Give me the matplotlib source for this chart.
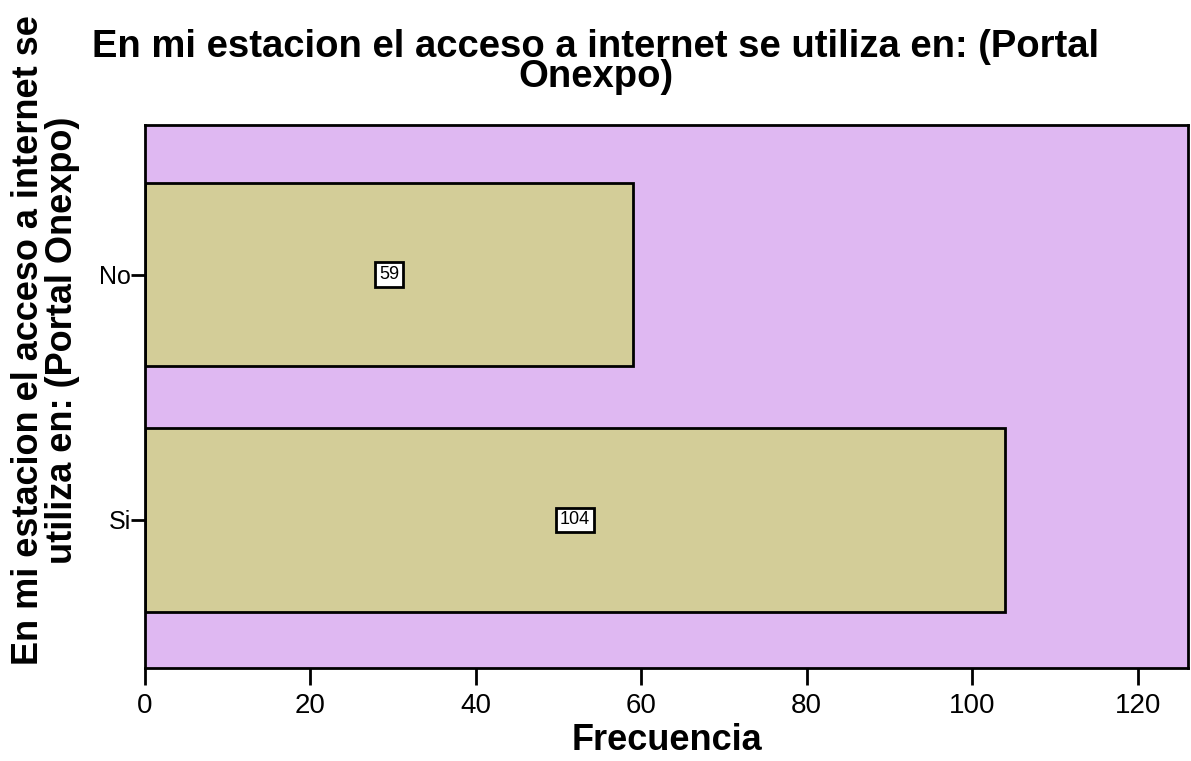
import matplotlib.pyplot as plt

categorias = ["Si", "No"]
frecuencias = [104, 59]
ticks_x = [0, 20, 40, 60, 80, 100, 120]

plt.rcParams["font.family"] = ["Liberation Sans", "DejaVu Sans"]

fig = plt.figure(figsize=(11.91, 7.61), dpi=100)
ax = fig.add_axes([0.1217, 0.1222, 0.8758, 0.7135])
ax.set_facecolor("#dfb8f2")

pos = list(range(len(categorias)))
ax.barh(pos, frecuencias, height=0.75, color="#d3cd98", edgecolor="black", linewidth=2)

# etiquetas con el valor en el centro de cada barra
for p, v in zip(pos, frecuencias):
    ax.text(v / 2, p, str(v), ha="center", va="center", fontsize=13,
            bbox=dict(boxstyle="square,pad=0.2", facecolor="white", edgecolor="black", linewidth=2))

ax.set_xlim(0, 126.1)
ax.set_ylim(-0.605, 1.61)
ax.set_xticks(ticks_x)
ax.set_yticks(pos)
ax.set_yticklabels(categorias)
ax.tick_params(axis="x", length=12, width=2, labelsize=20, pad=6)
ax.tick_params(axis="y", length=10, width=2, labelsize=18, pad=0)
for s in ax.spines.values():
    s.set_linewidth(2)

ax.set_xlabel("Frecuencia", fontsize=26, fontweight="bold", labelpad=3)
fig.text(0.038, 0.553, "En mi estacion el acceso a internet se\nutiliza en: (Portal Onexpo)",
         rotation=90, ha="center", va="center", fontsize=26, fontweight="bold",
         linespacing=0.98)
fig.text(0.5, 0.962, "En mi estacion el acceso a internet se utiliza en: (Portal\nOnexpo)",
         ha="center", va="top", fontsize=27.5, fontweight="bold", linespacing=0.8)

fig.savefig("out.png", dpi=100)
